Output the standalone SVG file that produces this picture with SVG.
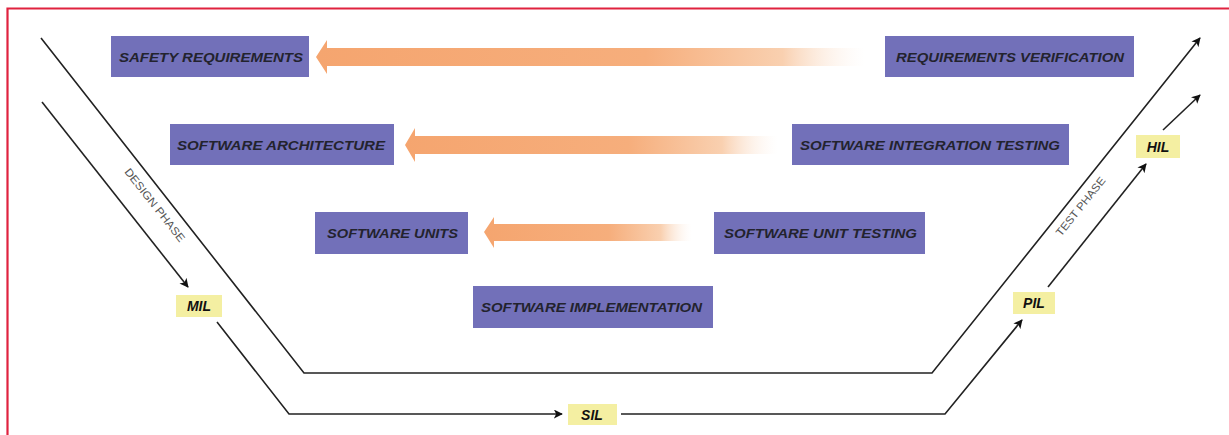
<svg xmlns="http://www.w3.org/2000/svg" width="1229" height="435" viewBox="0 0 1229 435">
  <style>
    .box { fill: #7270b9; }
    .boxtext { font-family: "Liberation Sans", Arial, sans-serif; font-weight: bold; font-style: italic; font-size: 13.5px; fill: #23232e; }
    .tag { fill: #f4efa2; }
    .tagtext { font-family: "Liberation Sans", Arial, sans-serif; font-weight: bold; font-style: italic; font-size: 14px; fill: #111; text-anchor: middle; }
    .phase { font-family: "Liberation Sans", Arial, sans-serif; font-size: 11px; fill: #555; }
    .line { fill: none; stroke: #222; stroke-width: 1.6; }
    .frame { fill: none; stroke: #e0223f; stroke-width: 2.2; }
  </style>
  <defs>
    <marker id="head" viewBox="0 0 10 10" refX="9" refY="5" markerWidth="9" markerHeight="9" orient="auto" markerUnits="userSpaceOnUse">
      <path d="M0,0 L10,5 L0,10 L2.5,5 Z" fill="#111"/>
    </marker>
    <linearGradient id="fade" x1="0" y1="0" x2="1" y2="0">
      <stop offset="0" stop-color="#f5a56f"/>
      <stop offset="0.6" stop-color="#f6ae7c"/>
      <stop offset="0.85" stop-color="#f9d0b0"/>
      <stop offset="1" stop-color="#fdf2ea" stop-opacity="0"/>
    </linearGradient>
  </defs>

  <rect width="1229" height="435" fill="#ffffff"/>
  <!-- frame: only top and left edges are drawn -->
  <path class="frame" d="M7.5,436 V8.5 H1229"/>

  <!-- broad feedback arrows -->
  <g id="feedback">
    <path d="M316,57 L327,40 L327,48 L865,48 L865,66 L327,66 L327,74 Z" fill="url(#fade)"/>
    <path d="M405,145 L415,128 L415,136 L778,136 L778,154 L415,154 L415,162 Z" fill="url(#fade)"/>
    <path d="M484,232 L494,217 L494,224 L692,224 L692,241 L494,241 L494,248 Z" fill="url(#fade)"/>
  </g>

  <!-- connectors -->
  <g id="connectors">
    <polyline class="line" points="41,38 304,373 932,373 1200,38" marker-end="url(#head)"/>
    <polyline class="line" points="42,102 188,287" marker-end="url(#head)"/>
    <polyline class="line" points="217,322 289,414 562,414" marker-end="url(#head)"/>
    <polyline class="line" points="621,414 945,414 1022,320" marker-end="url(#head)"/>
    <polyline class="line" points="1048,287 1146,164" marker-end="url(#head)"/>
    <polyline class="line" points="1163,130 1200,95" marker-end="url(#head)"/>
  </g>

  <text class="phase" transform="translate(124,172) rotate(51.8)" textLength="90" lengthAdjust="spacingAndGlyphs">DESIGN PHASE</text>
  <text class="phase" transform="translate(1061,237) rotate(-51.3)" textLength="72" lengthAdjust="spacingAndGlyphs">TEST PHASE</text>

  <g id="safety-requirements">
    <rect class="box" x="111" y="36" width="198" height="41"/>
    <text class="boxtext" x="119" y="62" textLength="184" lengthAdjust="spacingAndGlyphs">SAFETY REQUIREMENTS</text>
  </g>
  <g id="software-architecture">
    <rect class="box" x="170" y="124" width="224" height="41"/>
    <text class="boxtext" x="177" y="150" textLength="208" lengthAdjust="spacingAndGlyphs">SOFTWARE ARCHITECTURE</text>
  </g>
  <g id="software-units">
    <rect class="box" x="315" y="212" width="153" height="42"/>
    <text class="boxtext" x="327" y="238" textLength="131" lengthAdjust="spacingAndGlyphs">SOFTWARE UNITS</text>
  </g>
  <g id="software-implementation">
    <rect class="box" x="473" y="286" width="240" height="42"/>
    <text class="boxtext" x="481" y="312" textLength="221" lengthAdjust="spacingAndGlyphs">SOFTWARE IMPLEMENTATION</text>
  </g>
  <g id="requirements-verification">
    <rect class="box" x="885" y="36" width="249" height="41"/>
    <text class="boxtext" x="896" y="62" textLength="228" lengthAdjust="spacingAndGlyphs">REQUIREMENTS VERIFICATION</text>
  </g>
  <g id="software-integration-testing">
    <rect class="box" x="792" y="124" width="277" height="41"/>
    <text class="boxtext" x="800" y="150" textLength="260" lengthAdjust="spacingAndGlyphs">SOFTWARE INTEGRATION TESTING</text>
  </g>
  <g id="software-unit-testing">
    <rect class="box" x="714" y="212" width="211" height="42"/>
    <text class="boxtext" x="724" y="238" textLength="193" lengthAdjust="spacingAndGlyphs">SOFTWARE UNIT TESTING</text>
  </g>

  <g id="mil">
    <rect class="tag" x="176" y="295" width="46" height="22"/>
    <text class="tagtext" x="199" y="311">MIL</text>
  </g>
  <g id="sil">
    <rect class="tag" x="568" y="404" width="49" height="21"/>
    <text class="tagtext" x="592" y="420">SIL</text>
  </g>
  <g id="pil">
    <rect class="tag" x="1013" y="292" width="42" height="22"/>
    <text class="tagtext" x="1034" y="308">PIL</text>
  </g>
  <g id="hil">
    <rect class="tag" x="1136" y="135" width="44" height="23"/>
    <text class="tagtext" x="1158" y="152">HIL</text>
  </g>
</svg>
